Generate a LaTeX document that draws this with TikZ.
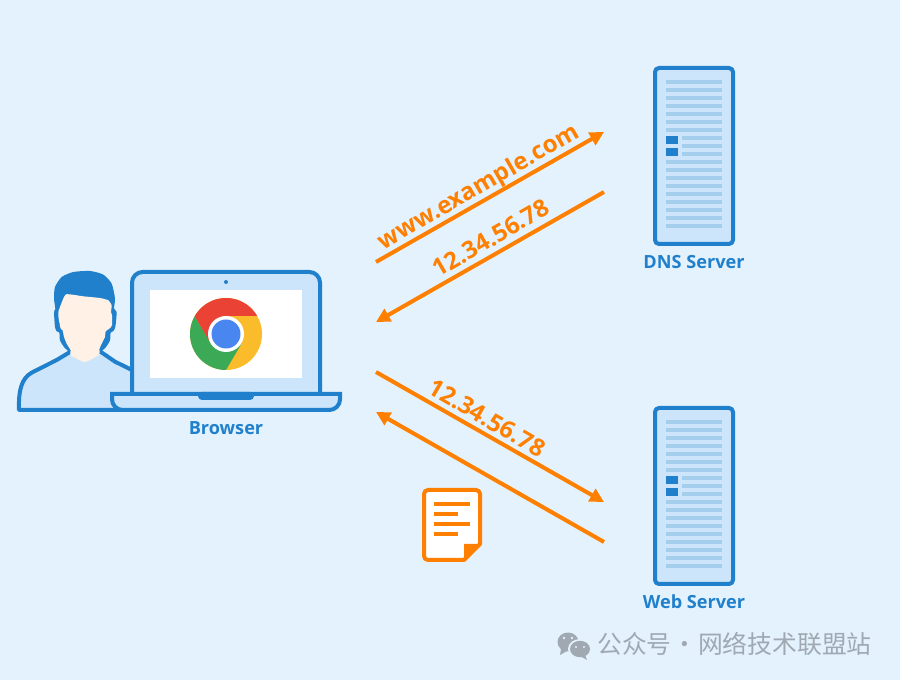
\documentclass[tikz,border=0pt]{standalone}
\usepackage{fontspec}
\setmainfont{Open Sans}
\newfontfamily\cjkfont{Noto Sans CJK SC}
\usetikzlibrary{arrows.meta}
\definecolor{bgc}{HTML}{E3F2FD}
\definecolor{fillc}{HTML}{CCE5FB}
\definecolor{linec}{HTML}{2080CC}
\definecolor{rackc}{HTML}{A5CDEC}
\definecolor{orangec}{HTML}{FF7F00}
\definecolor{facec}{HTML}{FFF1E5}
\definecolor{wmc}{HTML}{A0A9B2}
\definecolor{chromeY}{RGB}{251,188,44}
\definecolor{chromeG}{RGB}{60,169,86}
\definecolor{chromeR}{RGB}{234,67,53}
\definecolor{chromeB}{RGB}{74,134,240}
\tikzset{
  outline/.style={draw=linec,line width=3pt,fill=fillc,line join=round},
  label/.style={text=linec,font=\fontsize{13.6}{16}\selectfont\bfseries,inner sep=0pt},
  flow/.style={draw=orangec,line width=3pt,-{Triangle[length=10.5pt,width=10.5pt]}},
  flowtext/.style={text=orangec,font=\fontsize{18}{20}\selectfont\bfseries,inner sep=0pt,rotate=#1},
  rack/.style={fill=rackc,draw=none},
  unit/.style={fill=linec,draw=none},
  docline/.style={fill=orangec,draw=none},
}
\newcommand{\serverdraw}[1]{%
  \begin{scope}[shift={(0,#1)}]
    \draw[outline,rounded corners=3pt] (655,68) rectangle (733,244);
    \foreach \i in {0,...,18}{
      \pgfmathsetmacro{\yy}{82+8*\i}
      \ifnum\i>6 \ifnum\i<10
        \fill[rack] (682,\yy-2) rectangle (722,\yy+2);
      \else
        \fill[rack] (666,\yy-2) rectangle (722,\yy+2);
      \fi\else
        \fill[rack] (666,\yy-2) rectangle (722,\yy+2);
      \fi
    }
    \fill[unit] (666,136) rectangle (678,144);
    \fill[unit] (666,148) rectangle (678,156);
  \end{scope}
}
\begin{document}
\begin{tikzpicture}[x=0.75pt,y=-0.75pt]
\fill[bgc] (0,0) rectangle (900,680);
\useasboundingbox (0,0) rectangle (900,680);

% person
\begin{scope}[shift={(0,250)},x=0.25pt,y=-0.25pt]
  \draw[outline] (57,480) .. controls (55,420) and (65,385) .. (95,368)
     -- (170,330) -- (210,306) -- (303,306) -- (345,335) -- (400,362) -- (400,480) -- cycle;
\end{scope}
\begin{scope}[shift={(40,262)},x=0.25pt,y=-0.25pt]
  \fill[linec] plot[smooth,tension=0.4] coordinates {(90,272) (72,255) (60,235) (58,212) (50,208) (45,195) (42,150) (46,140) (42,110) (45,75) (65,45) (100,30) (150,27) (190,38) (215,65) (225,110) (222,140) (230,150) (226,195) (220,207) (212,212) (210,235) (198,255) (180,272)};
  \fill[facec] plot[smooth cycle,tension=0.3] coordinates {(78,97) (130,103) (180,108) (205,115) (215,130) (213,150) (216,160) (216,190) (208,200) (197,208) (195,225) (185,245) (178,262) (178,278) (135,300) (92,280) (92,265) (80,245) (72,225) (68,205) (62,200) (56,170) (55,150) (62,130)};
\end{scope}

% laptop
\draw[outline,rounded corners=8pt] (132,394) -- (132,272) -- (320,272) -- (320,394);
\fill[white] (150,290) rectangle (302,378);
\fill[linec] (226,282) circle (2);
\draw[outline,line join=miter] (112,394) [rounded corners=8pt] -- (112,410) -- (340,410) [sharp corners] -- (340,394) -- cycle;
\fill[linec,rounded corners=3pt] (198,392) -- (198,400) -- (254,400) -- (254,392) -- cycle;
\fill[linec] (198,392) rectangle (254,396);
\node[label] (browser) at (226,428) {Browser};

% chrome logo
\begin{scope}
  \clip (226,334) circle (36);
  \fill[chromeY] (180,290) rectangle (270,380);
  \begin{scope}[shift={(0,250)},x=0.25pt,y=-0.25pt]
    \fill[chromeG] (585,200) -- (632,280) -- (725,280) -- (678,360) -- (540,390) -- (540,200) -- cycle;
    \fill[chromeR] (772,198) -- (678,198) -- (632,280) -- (585,200) -- (540,190) -- (540,120) -- (820,120) -- (820,198) -- cycle;
  \end{scope}
\end{scope}
\fill[white] (226,334) circle (18);
\fill[chromeB] (226,334) circle (14.5);

% servers
\serverdraw{0}
\serverdraw{340}
\node[label] (dns) at (694,262) {DNS Server};
\node[label] (web) at (694,602) {Web Server};

% connectors
\coordinate (a1) at (376,262); \coordinate (a2) at (604,132);
\coordinate (b1) at (604,192); \coordinate (b2) at (376,322);
\coordinate (c1) at (376,372); \coordinate (c2) at (604,502);
\coordinate (d1) at (604,542); \coordinate (d2) at (376,412);
\draw[flow] (a1) -- (a2);
\draw[flow] (b1) -- (b2);
\draw[flow] (c1) -- (c2);
\draw[flow] (d1) -- (d2);
\node[flowtext=30] (t1) at (479,188) {www.example.com};
\node[flowtext=30] (t2) at (491,238) {12.34.56.78};
\node[flowtext=-30] (t3) at (487,418) {12.34.56.78};

% document
\draw[draw=orangec,line width=3pt,fill=white,rounded corners=3pt,line join=round] (424,490) -- (480,490) [sharp corners] -- (480,544) -- (464,560) [rounded corners=3pt] -- (424,560) -- cycle;
\fill[orangec] (464,544) -- (478,544) -- (464,558) -- cycle;
\fill[docline] (434,502) rectangle (470,506);
\fill[docline] (434,512) rectangle (458,516);
\fill[docline] (434,522) rectangle (470,526);
\fill[docline] (434,532) rectangle (458,536);

% watermark
\fill[wmc] (568,642) ellipse (10.5 and 9.5);
\fill[wmc] (561,649) -- (560,655) -- (567,651) -- cycle;
\fill[bgc] (580,649) ellipse (12 and 10);
\fill[wmc] (580,649) ellipse (10 and 8.2);
\fill[wmc] (585,655) -- (587,660) -- (580,656) -- cycle;
\fill[bgc] (564,638) circle (1.4);
\fill[bgc] (572,638) circle (1.4);
\fill[bgc] (576,647) circle (1.2);
\fill[bgc] (584,647) circle (1.2);
\node[anchor=west,inner sep=0pt,text=wmc,font=\cjkfont\fontsize{18.6}{20}\selectfont] (wm) at (597,644) {公众号\hspace{0.4pt}·\hspace{0.8pt}网络技术联盟站};
\end{tikzpicture}
\end{document}
